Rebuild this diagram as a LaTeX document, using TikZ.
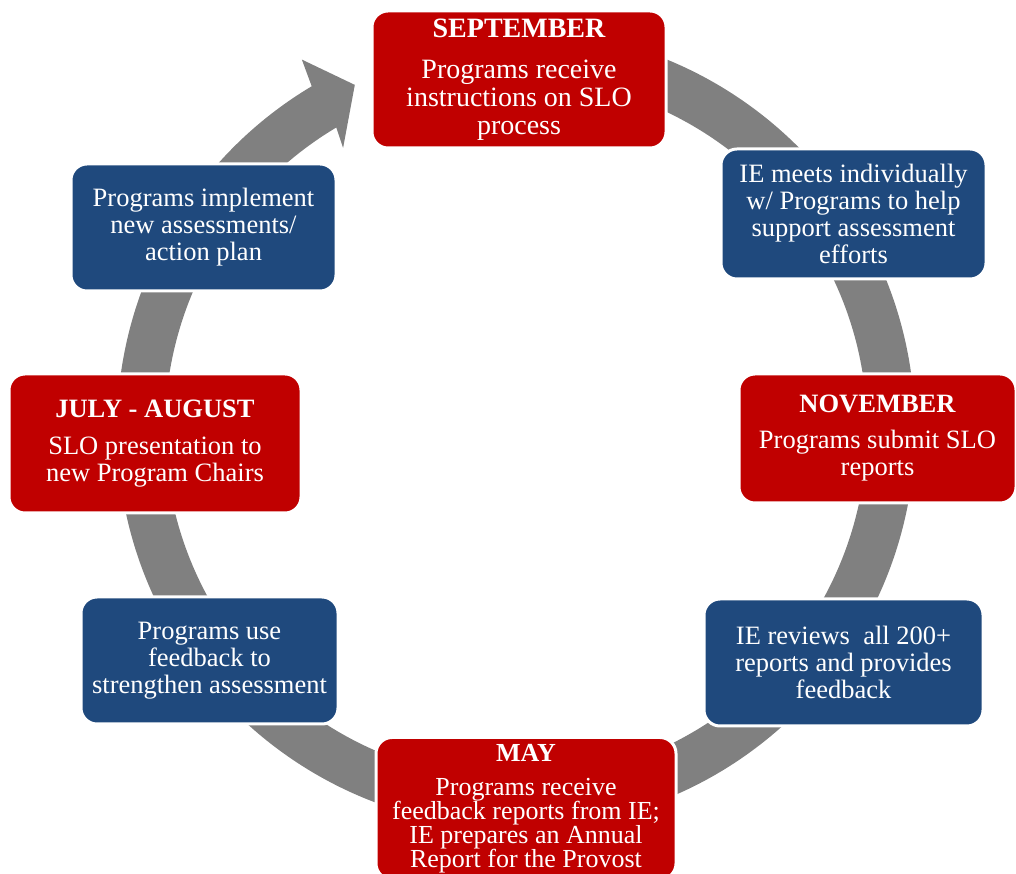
\documentclass[tikz,border=0pt]{standalone}
\usepackage{fontspec}
\setmainfont{Liberation Serif}
\usepackage{tikz}
\definecolor{sloRed}{RGB}{192,0,0}
\definecolor{sloBlue}{RGB}{31,73,125}
\definecolor{ringGray}{RGB}{128,128,128}
\tikzstyle{stepbox} = [draw=white, line width=3pt, rounded corners=16pt,
    rectangle, inner sep=0pt, text=white, align=center,
    font=\fontsize{26.5}{27}\selectfont]
\tikzstyle{monthbox} = [stepbox, fill=sloRed]
\tikzstyle{taskbox} = [stepbox, fill=sloBlue]

\begin{document}
\begin{tikzpicture}[x=1pt,y=1pt]
    \useasboundingbox (0,0) rectangle (1016,874);
    % circular arrow behind the boxes
    \fill[ringGray, shift={(516,445)}] (95:399)
        arc[start angle=95, end angle=-239.2, radius=399]
        -- (-239.9:427) -- (-244.9:380) -- (-238.4:330) -- (-239.2:351)
        arc[start angle=-239.2, end angle=95, radius=351] -- cycle;
    % months
    \node [monthbox, minimum width=294, minimum height=137, font=\fontsize{28}{28}\selectfont] (sep) at (519,794.5) {%
        {\bfseries SEPTEMBER}\\[13pt]
        Programs receive\\
        instructions on SLO\\
        process};
    \node [monthbox, minimum width=277, minimum height=129] (nov) at (877.5,435.5) {%
        {\bfseries NOVEMBER}\\[9pt]
        Programs submit SLO\\
        reports};
    \node [monthbox, minimum width=300, minimum height=142, anchor=north, font=\fontsize{26}{24}\selectfont] (may) at (526,138) {%
        {\bfseries MAY}\\[10pt]
        Programs receive\\
        feedback reports from IE;\\
        IE prepares an Annual\\
        Report for the Provost};
    \node [monthbox, minimum width=292, minimum height=139] (jul) at (155,430.5) {%
        {\bfseries JULY - AUGUST}\\[10pt]
        SLO presentation to\\
        new Program Chairs};
    % tasks in between
    \node [taskbox, minimum width=265, minimum height=130] (meets) at (853.5,660) {%
        IE meets individually\\
        w/ Programs to help\\
        support assessment\\
        efforts};
    \node [taskbox, minimum width=279, minimum height=127] (rev) at (843.5,211.5) {%
        IE reviews\ \ all 200+\\
        reports and provides\\
        feedback};
    \node [taskbox, minimum width=257, minimum height=127] (use) at (209.5,213.5) {%
        Programs use\\
        feedback to\\
        strengthen assessment};
    \node [taskbox, minimum width=265, minimum height=127] (impl) at (203.5,646.5) {%
        Programs implement\\
        new assessments/\\
        action plan};
\end{tikzpicture}
\end{document}
